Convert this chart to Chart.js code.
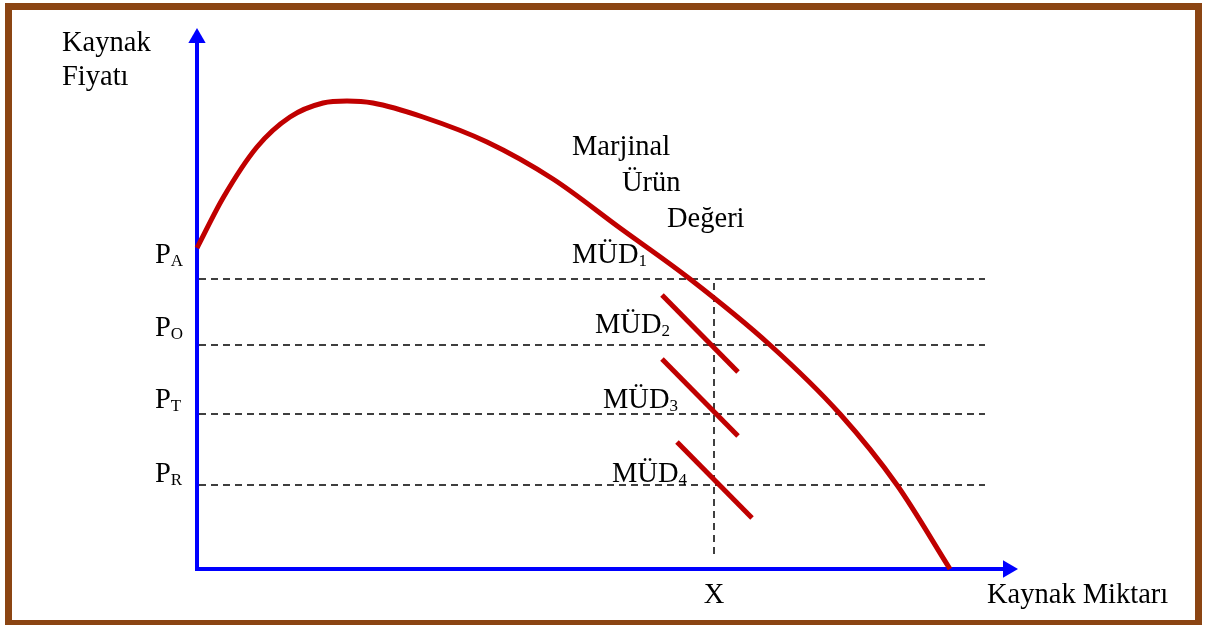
<!DOCTYPE html>
<html>
<head>
<meta charset="utf-8">
<script src="https://cdn.jsdelivr.net/npm/chart.js@4"></script>
<style>
  html, body { margin: 0; padding: 0; background: #ffffff; }
  canvas { display: block; }
</style>
</head>
<body>
<canvas id="c" width="1210" height="625"></canvas>
<script>
// ---- Data (arbitrary units) ----
// Marjinal Ürün Değeri curve (resource quantity -> value)
const quantity = [0, 5.2, 12, 18.6, 25.2, 30, 35.2, 45.2, 58, 71.2, 84.6, 98.6, 114.6, 128.6, 140, 150.6];
const mvp      = [64.2, 74.2, 84.4, 90.4, 93.2, 93.6, 93.2, 90.4, 85.4, 78, 68.2, 58, 44.8, 31, 16.8, 0];

// Price levels P_A, P_O, P_T, P_R
const priceSubs   = ['A', 'O', 'T', 'R'];
const priceLevels = [58, 44.8, 31, 16.8];
const priceLineEnd = 157.6;

// Resource quantity X
const xLevel = 103.4;
const xLineY = [2.4, 57.2];

// Short MÜD segments (start/end quantity and value)
const mud2X = [93, 108.2],  mud2Y = [54.8, 39.4];
const mud3X = [93, 108.2],  mud3Y = [42, 26.6];
const mud4X = [96, 111],    mud4Y = [25.4, 10.2];

// Axis extents
const axisXEnd = 162.2;
const axisYEnd = 106.2;

// ---- Build datasets ----
const zip = (xs, ys) => xs.map((x, i) => ({ x, y: ys[i] }));
const RED = '#C00000';

const datasets = [];
datasets.push({ label: 'MÜD', data: zip(quantity, mvp), borderColor: RED, borderWidth: 5,
  cubicInterpolationMode: 'monotone', pointRadius: 0, borderCapStyle: 'butt' });
[[mud2X, mud2Y], [mud3X, mud3Y], [mud4X, mud4Y]].forEach(([xs, ys]) => {
  datasets.push({ data: zip(xs, ys), borderColor: RED, borderWidth: 5, pointRadius: 0 });
});
datasets.push({ label: 'axes', data: [{ x: 0, y: axisYEnd }, { x: 0, y: 0 }, { x: axisXEnd, y: 0 }],
  borderColor: '#0000FF', backgroundColor: '#0000FF', borderWidth: 4, borderJoinStyle: 'miter',
  pointStyle: 'triangle', pointRadius: [10, 0, 10], pointRotation: [0, 0, 90],
  pointBorderWidth: 0, pointBackgroundColor: '#0000FF', tension: 0 });
priceLevels.forEach(p => {
  datasets.push({ data: [{ x: 0.4, y: p }, { x: priceLineEnd, y: p }], borderColor: '#000000',
    borderWidth: 1.5, borderDash: [7, 5], pointRadius: 0 });
});
datasets.push({ data: [{ x: xLevel, y: xLineY[1] }, { x: xLevel, y: xLineY[0] }], borderColor: '#000000',
  borderWidth: 1.5, borderDash: [7, 5], pointRadius: 0 });

// ---- Text labels (anchor positions in data units) ----
const FONT = '"Liberation Serif", "Times New Roman", serif';
const texts = [
  { t: 'Kaynak', x: -27, y: 103.6 },
  { t: 'Fiyatı', x: -27, y: 96.8 },
  { t: 'Marjinal', x: 75, y: 82.8 },
  { t: 'Ürün', x: 85, y: 75.6 },
  { t: 'Değeri', x: 94, y: 68.4 },
  { t: 'MÜD', sub: '1', x: 75, y: 61.2 },
  { t: 'MÜD', sub: '2', x: 79.6, y: 47.2 },
  { t: 'MÜD', sub: '3', x: 81.2, y: 32.2 },
  { t: 'MÜD', sub: '4', x: 83, y: 17.4 },
  { t: 'P', sub: priceSubs[0], x: -8.4, y: 61.2 },
  { t: 'P', sub: priceSubs[1], x: -8.4, y: 46.6 },
  { t: 'P', sub: priceSubs[2], x: -8.4, y: 32.2 },
  { t: 'P', sub: priceSubs[3], x: -8.4, y: 17.4 },
  { t: 'X', x: xLevel, y: -6.8, center: true },
  { t: 'Kaynak Miktarı', x: 158, y: -6.8 }
];

const framePlugin = {
  id: 'frame',
  beforeDraw(chart) {
    const ctx = chart.ctx;
    ctx.save();
    ctx.fillStyle = '#ffffff';
    ctx.fillRect(0, 0, chart.width, chart.height);
    ctx.strokeStyle = '#8B4513';
    ctx.lineWidth = 7;
    ctx.strokeRect(8.5, 6.5, 1190, 617);
    ctx.restore();
  }
};

const textPlugin = {
  id: 'texts',
  afterDatasetsDraw(chart) {
    const ctx = chart.ctx;
    const xs = chart.scales.x, ys = chart.scales.y;
    ctx.save();
    ctx.fillStyle = '#000000';
    ctx.textBaseline = 'alphabetic';
    texts.forEach(d => {
      let px = xs.getPixelForValue(d.x);
      const py = ys.getPixelForValue(d.y);
      ctx.font = '28.5px ' + FONT;
      const w = ctx.measureText(d.t).width;
      if (d.center) px -= w / 2;
      ctx.textAlign = 'left';
      ctx.fillText(d.t, px, py);
      if (d.sub) {
        ctx.font = '17px ' + FONT;
        ctx.fillText(d.sub, px + w, py + 3);
      }
    });
    ctx.restore();
  }
};

new Chart(document.getElementById('c'), {
  type: 'line',
  data: { datasets },
  options: {
    responsive: false,
    animation: false,
    events: [],
    layout: { padding: 0, autoPadding: false },
    plugins: { legend: { display: false }, tooltip: { enabled: false }, title: { display: false } },
    scales: {
      x: { type: 'linear', display: false, min: -39.4, max: 202.6 },
      y: { type: 'linear', display: false, min: -11.2, max: 113.8 }
    }
  },
  plugins: [framePlugin, textPlugin]
});
</script>
</body>
</html>
